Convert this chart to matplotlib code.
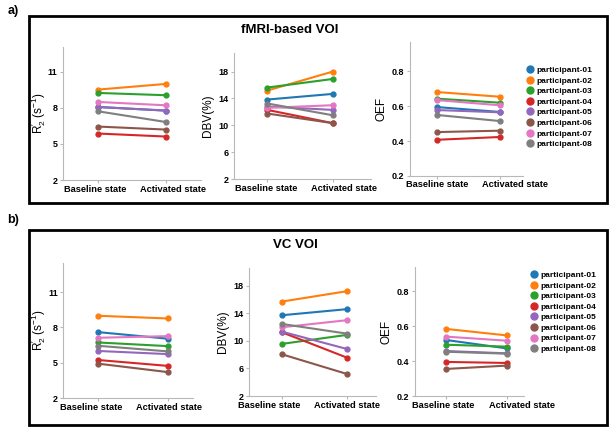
import matplotlib
matplotlib.use('Agg')
import matplotlib.pyplot as plt
from matplotlib.lines import Line2D
from matplotlib.patches import Rectangle
from matplotlib.transforms import ScaledTranslation, blended_transform_factory

plt.rcParams['font.family'] = ['Liberation Sans', 'DejaVu Sans']
plt.rcParams['mathtext.fontset'] = 'custom'
plt.rcParams['mathtext.rm'] = 'Liberation Sans'
plt.rcParams['mathtext.it'] = 'Liberation Sans:italic'
plt.rcParams['mathtext.fallback'] = 'stixsans'

states = ['Baseline state', 'Activated state']
participants = ['participant-01', 'participant-02', 'participant-03', 'participant-04',
                'participant-05', 'participant-06', 'participant-07', 'participant-08']
colors = ['#1f77b4', '#ff7f0e', '#2ca02c', '#d62728', '#9467bd', '#8c564b', '#e377c2', '#7f7f7f']

# fMRI-based VOI
fmri_r2_base = [8.08, 9.53, 9.25, 5.87, 8.08, 6.45, 8.50, 7.72]
fmri_r2_act = [7.78, 10.00, 9.06, 5.62, 7.78, 6.20, 8.22, 6.83]
fmri_dbv_base = [13.84, 15.18, 15.62, 12.30, 12.80, 11.76, 12.60, 13.25]
fmri_dbv_act = [14.68, 18.00, 16.90, 10.33, 12.30, 10.33, 13.00, 11.50]
fmri_oef_base = [0.594, 0.680, 0.642, 0.407, 0.577, 0.451, 0.634, 0.549]
fmri_oef_act = [0.566, 0.653, 0.619, 0.423, 0.564, 0.459, 0.604, 0.514]

# VC VOI
vc_r2_base = [7.60, 8.99, 6.72, 5.23, 6.00, 4.92, 7.12, 6.44]
vc_r2_act = [7.04, 8.76, 6.41, 4.73, 5.73, 4.20, 7.26, 5.96]
vc_dbv_base = [13.70, 15.68, 9.55, 11.24, 11.33, 8.05, 11.96, 12.44]
vc_dbv_act = [14.58, 17.18, 10.85, 7.57, 8.82, 5.20, 12.98, 11.04]
vc_oef_base = [0.521, 0.584, 0.494, 0.396, 0.458, 0.356, 0.540, 0.454]
vc_oef_act = [0.473, 0.547, 0.483, 0.390, 0.445, 0.375, 0.517, 0.443]

r2_label = r"R$_2^{\prime}$ (s$^{-1}$)"


def draw_panel(ax, base, act, ylabel, yticks, ylim, xlim, label_shift, labelpad=3):
    for i in range(len(participants)):
        ax.plot([0, 1], [base[i], act[i]], color=colors[i], lw=1.5,
                marker='o', markersize=3.5)
    ax.set_xlim(*xlim)
    ax.set_ylim(*ylim)
    ax.set_xticks([0, 1])
    ax.set_xticklabels([])
    # the original labels sit a little off their ticks, so place them by hand
    trans = blended_transform_factory(ax.transData, ax.transAxes)
    for x, (state, dx) in enumerate(zip(states, label_shift)):
        ax.text(x, 0, state, fontsize=6.7, fontweight='bold', ha='center', va='top',
                transform=trans + ScaledTranslation(dx / 100, -4.5 / 100, fig.dpi_scale_trans))
    ax.set_yticks(yticks)
    ax.set_yticklabels([f'{t:g}' for t in yticks], fontsize=6.5, fontweight='bold')
    ax.set_ylabel(ylabel, fontsize=8.5, labelpad=labelpad)
    for s in ['top', 'right']:
        ax.spines[s].set_visible(False)
    for s in ['left', 'bottom']:
        ax.spines[s].set_color('#b8b8b8')
        ax.spines[s].set_linewidth(0.8)
    ax.tick_params(axis='both', length=2.5, color='#b8b8b8', pad=1.5)


fig = plt.figure(figsize=(6.15, 4.32), dpi=100)

# panel frames
fig.patches.append(Rectangle((29 / 615, 1 - 203 / 432), 578 / 615, 187 / 432,
                             transform=fig.transFigure, fill=False, lw=2, ec='black'))
fig.patches.append(Rectangle((29 / 615, 1 - 425 / 432), 578 / 615, 195 / 432,
                             transform=fig.transFigure, fill=False, lw=2, ec='black'))

fig.text(0.012, 0.975, 'a)', fontsize=9, fontweight='bold', va='center')
fig.text(0.012, 0.49, 'b)', fontsize=9, fontweight='bold', va='center')
fig.text(290 / 615, 1 - 30 / 432, 'fMRI-based VOI', fontsize=9.5, fontweight='bold',
         ha='center', va='center')
fig.text(295 / 615, 1 - 245 / 432, 'VC VOI', fontsize=9.5, fontweight='bold',
         ha='center', va='center')

ax = fig.add_axes([0.1024, 0.5833, 0.2244, 0.3086])
draw_panel(ax, fmri_r2_base, fmri_r2_act, r2_label, [2, 5, 8, 11], (2, 13.1), (-0.52, 1.52), (-3, 7), 0)
ax = fig.add_axes([0.3805, 0.5850, 0.2228, 0.2931])
draw_panel(ax, fmri_dbv_base, fmri_dbv_act, 'DBV(%)', [2, 6, 10, 14, 18], (2, 20.8), (-0.51, 1.58), (-1, 11))
ax = fig.add_axes([0.6662, 0.5926, 0.1837, 0.3102])
draw_panel(ax, fmri_oef_base, fmri_oef_act, 'OEF', [0.2, 0.4, 0.6, 0.8], (0.2, 0.966), (-0.43, 1.36), (0, 15))

ax = fig.add_axes([0.1029, 0.0787, 0.2109, 0.3118])
draw_panel(ax, vc_r2_base, vc_r2_act, r2_label, [2, 5, 8, 11], (2, 13.45), (-0.5, 1.36), (-7, 1), 0)
ax = fig.add_axes([0.4054, 0.0833, 0.2060, 0.2956])
draw_panel(ax, vc_dbv_base, vc_dbv_act, 'DBV(%)', [2, 6, 10, 14, 18], (2, 20.5), (-0.5, 1.45), (-13, 0))
ax = fig.add_axes([0.6748, 0.0826, 0.1772, 0.2986])
draw_panel(ax, vc_oef_base, vc_oef_act, 'OEF', [0.2, 0.4, 0.6, 0.8], (0.2, 0.935), (-0.51, 1.28), (-3, 15))

handles = [Line2D([], [], color=c, marker='o', linestyle='None', markersize=5) for c in colors]
for top_px, x_px in [(62, 521), (267, 525)]:
    fig.legend(handles, participants, loc='upper left',
               bbox_to_anchor=(x_px / 615, 1 - top_px / 432), frameon=False,
               prop={'size': 6, 'weight': 'bold'}, handletextpad=0.1,
               labelspacing=0.33, borderpad=0, handlelength=1.2)

fig.savefig('out.png', dpi=100)
